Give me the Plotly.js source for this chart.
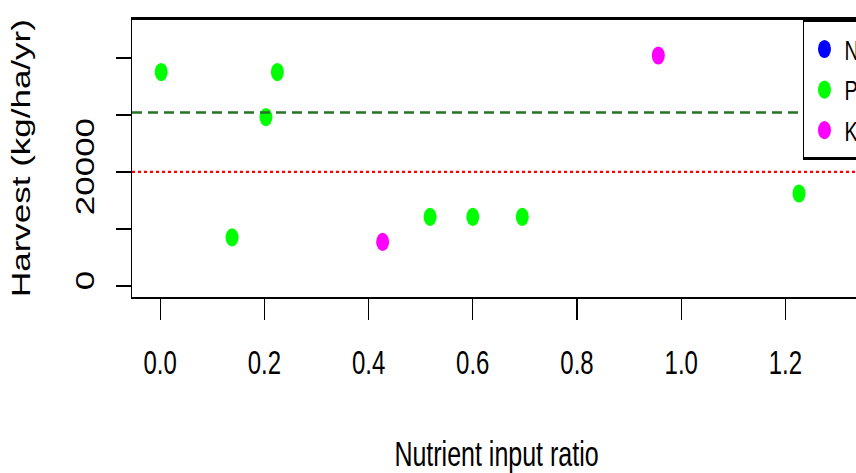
<!DOCTYPE html>
<html>
<head>
<meta charset="utf-8">
<script src="https://cdn.plot.ly/plotly-3.0.1.min.js"></script>
<style>
  html, body { margin: 0; padding: 0; overflow: hidden; background: #fff; width: 856px; height: 473px; }
  #chart { width: 900px; height: 338px; transform: scaleY(1.3994); transform-origin: 0 0; }
</style>
</head>
<body>
<div id="chart"></div>
<script>
// ---- data ----
const seriesNames = ['N', 'P', 'K'];
const seriesColors = ['#0000FF', '#00FF00', '#FF00FF'];
const xN = [null];
const yN = [null];
const xP = [0.002, 0.138, 0.203, 0.225, 0.518, 0.600, 0.695, 1.226];
const yP = [37500, 8500, 29600, 37500, 12100, 12100, 12100, 16200];
const xK = [0.427, 0.956];
const yK = [7700, 40400];
const refLevels = [30400, 20000];
const xTickVals = [0, 0.2, 0.4, 0.6, 0.8, 1.0, 1.2];
const xTickText = ['0.0', '0.2', '0.4', '0.6', '0.8', '1.0', '1.2'];
const yTickVals = [0, 10000, 20000, 30000, 40000];
const yTickText = ['0', '', '20000', '', ''];
const xTitle = 'Nutrient input ratio';
const yTitle = 'Harvest (kg/ha/yr)';

const FONT = 'Liberation Sans, Arial, sans-serif';
const xs = [xN, xP, xK];
const ys = [yN, yP, yK];

const traces = seriesNames.map((name, i) => ({
  type: 'scatter',
  mode: 'markers',
  name: name,
  x: xs[i],
  y: ys[i],
  marker: { color: seriesColors[i], size: 13, line: { width: 0 } },
  hoverinfo: 'skip'
}));

const lineStyles = [
  { color: '#267326', width: 1.7, dash: '10px,6px' },
  { color: '#FF0000', width: 1.6, dash: '3px,3px' }
];
const shapes = refLevels.map((v, i) => ({
  type: 'line', xref: 'paper', x0: 0, x1: 1, yref: 'y', y0: v, y1: v,
  line: lineStyles[i], layer: 'above'
}));

const layout = {
  width: 900,
  height: 338,
  margin: { l: 132, r: 39, t: 14, b: 126, autoexpand: false },
  paper_bgcolor: '#ffffff',
  plot_bgcolor: '#ffffff',
  font: { family: FONT, color: '#000000' },
  showlegend: true,
  legend: {
    x: 0.9204, xanchor: 'left', y: 1, yanchor: 'top',
    traceorder: 'normal',
    bgcolor: '#ffffff', bordercolor: '#000000', borderwidth: 1.5,
    font: { family: FONT, size: 20, color: '#000000' }
  },
  xaxis: {
    range: [-0.054, 1.345],
    tickmode: 'array', tickvals: xTickVals, ticktext: xTickText,
    ticks: 'outside', ticklen: 15, tickwidth: 1.2, tickcolor: '#000',
    showline: true, linecolor: '#000', linewidth: 1.5, mirror: true,
    showgrid: false, zeroline: false,
    tickfont: { family: FONT, size: 24, color: '#000' },
    ticklabelstandoff: 10,
    title: { text: xTitle, font: { family: FONT, size: 25, color: '#000' }, standoff: 44 }
  },
  yaxis: {
    range: [-1900, 46700],
    tickmode: 'array', tickvals: yTickVals, ticktext: yTickText,
    tickangle: -90,
    ticks: 'outside', ticklen: 15, tickwidth: 1.2, tickcolor: '#000',
    showline: true, linecolor: '#000', linewidth: 1.5, mirror: true,
    showgrid: false, zeroline: false,
    tickfont: { family: FONT, size: 25, color: '#000' },
    ticklabelstandoff: 12,
    title: { text: yTitle, font: { family: FONT, size: 25, color: '#000' }, standoff: 32 }
  },
  shapes: shapes
};

Plotly.newPlot('chart', traces, layout, { displayModeBar: false, staticPlot: true });
</script>
</body>
</html>
